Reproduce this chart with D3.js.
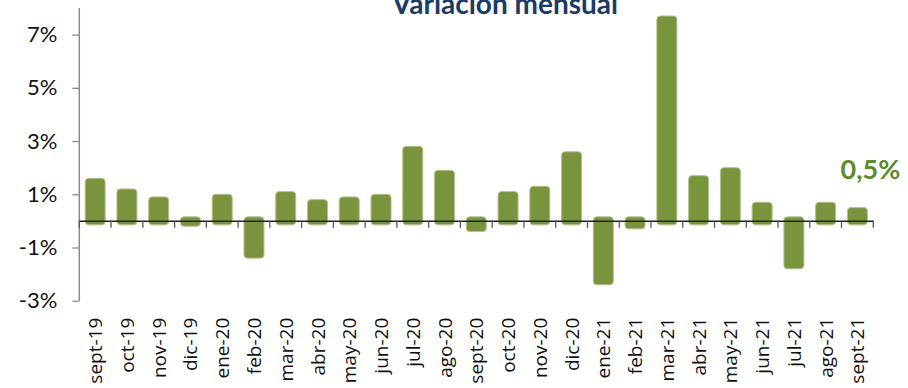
<!DOCTYPE html>
<html>
<head>
<meta charset="utf-8">
<script src="https://cdn.jsdelivr.net/npm/d3@7"></script>
<style>
  html, body { margin: 0; padding: 0; background: #ffffff; }
  svg { display: block; }
</style>
</head>
<body>
<svg id="chart" width="908" height="388"></svg>
<script>
// Monthly variation, Sept 2019 - Sept 2021 (%)
const months = [
  "sept-19", "oct-19", "nov-19", "dic-19", "ene-20", "feb-20", "mar-20",
  "abr-20", "may-20", "jun-20", "jul-20", "ago-20", "sept-20", "oct-20",
  "nov-20", "dic-20", "ene-21", "feb-21", "mar-21", "abr-21", "may-21",
  "jun-21", "jul-21", "ago-21", "sept-21"
];
const variation = [
  1.6, 1.2, 0.9, -0.2, 1.0, -1.4, 1.1,
  0.8, 0.9, 1.0, 2.8, 1.9, -0.4, 1.1,
  1.3, 2.6, -2.4, -0.3, 7.7, 1.7, 2.0,
  0.7, -1.8, 0.7, 0.5
];
const yTicks = [-3, -1, 1, 3, 5, 7];
const title = "Variación mensual";

const svg = d3.select("#chart");

const x = d3.scaleBand()
  .domain(months)
  .range([79.3, 873.3])
  .padding(0);

const y = d3.scaleLinear()
  .domain([-3, 8])
  .range([300.7, 8]);

const barW = x.bandwidth() * 0.63;
const overlap = 4;
const fmtPct = v => (Number.isInteger(v) ? v : String(v).replace(".", ",")) + "%";

// Bars (rounded, running slightly past the zero line)
svg.append("g")
  .selectAll("rect")
  .data(variation)
  .join("rect")
  .attr("x", (d, i) => x(months[i]) + (x.bandwidth() - barW) / 2)
  .attr("y", d => d >= 0 ? y(d) : y(0) - overlap)
  .attr("width", barW)
  .attr("height", d => Math.abs(y(d) - y(0)) + overlap)
  .attr("rx", 3.5)
  .attr("fill", "#7a943e")
  .attr("stroke", "#b3c28c")
  .attr("stroke-width", 1);

// Y axis
const yAxis = svg.append("g")
  .attr("transform", `translate(${x.range()[0]},0)`)
  .call(d3.axisLeft(y).tickValues(yTicks).tickSize(7).tickPadding(15).tickFormat(fmtPct));
yAxis.select(".domain")
  .attr("d", `M0,${y.range()[1]}V${y.range()[0]}`)
  .attr("stroke", "#8a8a8a")
  .attr("stroke-width", 1.5);
yAxis.selectAll(".tick line").attr("stroke", "#8a8a8a").attr("stroke-width", 1.3);
yAxis.selectAll(".tick text")
  .attr("font-family", "Lato, sans-serif")
  .attr("font-size", 22)
  .attr("fill", "#111111");

// X axis along zero
const xAxis = svg.append("g")
  .attr("transform", `translate(0,${y(0)})`)
  .call(d3.axisBottom(x).tickSize(0).tickFormat(""));
xAxis.select(".domain").attr("stroke", "#222222").attr("stroke-width", 1.5);
xAxis.selectAll(".tick").remove();

// Category separators below the zero line
const bounds = months.map(m => x(m)).concat([x.range()[1]]);
svg.append("g")
  .selectAll("line")
  .data(bounds)
  .join("line")
  .attr("x1", d => d).attr("x2", d => d)
  .attr("y1", y(0)).attr("y2", y(0) + 7)
  .attr("stroke", "#555555")
  .attr("stroke-width", 1.3);

// Month labels, vertical, under the plot
svg.append("g")
  .selectAll("text")
  .data(months)
  .join("text")
  .attr("transform", d => `translate(${x(d) + x.bandwidth() / 2 + 7},${y(-3) + 17}) rotate(-90)`)
  .attr("text-anchor", "end")
  .attr("font-family", "'Open Sans', sans-serif")
  .attr("font-size", 19)
  .attr("fill", "#111111")
  .text(d => d);

// Latest value callout
const lastIdx = variation.length - 1;
svg.append("text")
  .attr("x", x(months[lastIdx]) + x.bandwidth() / 2 + 13)
  .attr("y", y(variation[lastIdx]) - 29)
  .attr("text-anchor", "middle")
  .attr("font-family", "Lato, sans-serif")
  .attr("font-weight", "bold")
  .attr("font-size", 27)
  .attr("fill", "#5b8c2c")
  .text(fmtPct(variation[lastIdx]));

// Title (partly above the top edge)
svg.append("text")
  .attr("x", 505)
  .attr("y", 14)
  .attr("text-anchor", "middle")
  .attr("font-family", "Lato, sans-serif")
  .attr("font-weight", "bold")
  .attr("font-size", 28)
  .attr("fill", "#1c3a66")
  .text(title);
</script>
</body>
</html>
